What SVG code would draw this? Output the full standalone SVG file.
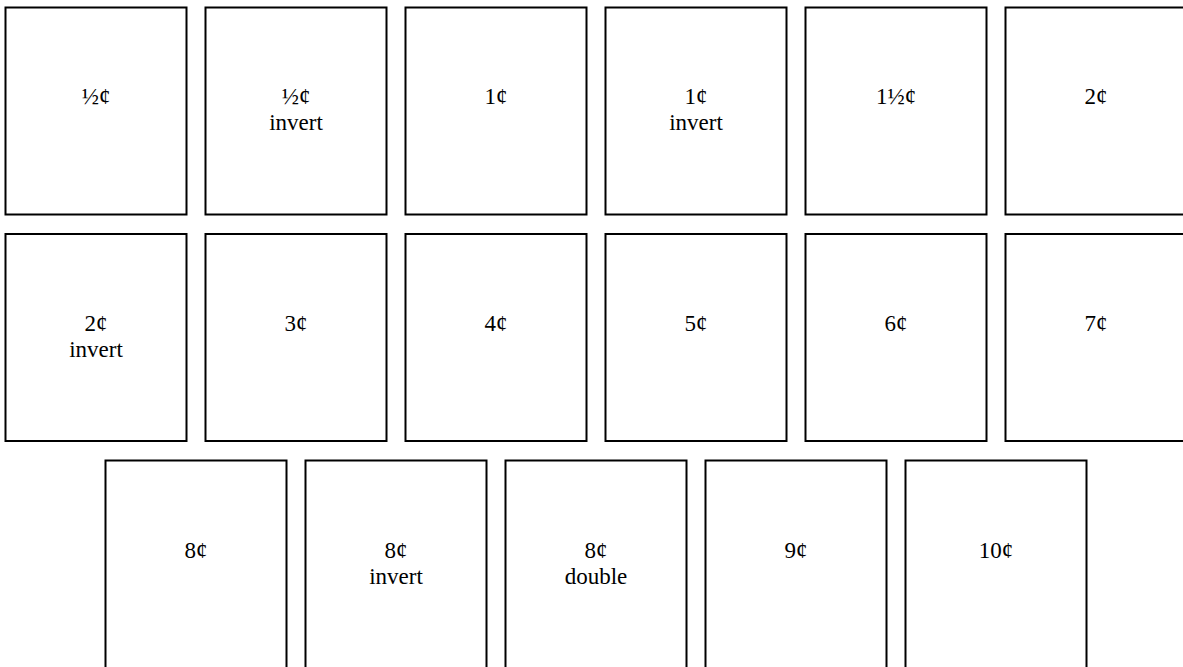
<svg xmlns="http://www.w3.org/2000/svg" width="1183" height="667" viewBox="0 0 1183 667">
<style>
.b{fill:#fff;stroke:#000;stroke-width:2}
.t{font-family:"Liberation Serif","Times New Roman",serif;font-size:23px;fill:#000;text-anchor:middle}
</style>
<rect width="1183" height="667" fill="#fff"/>
<g id="n1"><rect class="b" x="5.5" y="7.5" width="181" height="207"/><text class="t" x="96" y="104">½¢</text></g>
<g id="n2"><rect class="b" x="205.5" y="7.5" width="181" height="207"/><text class="t" x="296" y="104">½¢</text><text class="t" x="296" y="130">invert</text></g>
<g id="n3"><rect class="b" x="405.5" y="7.5" width="181" height="207"/><text class="t" x="496" y="104">1¢</text></g>
<g id="n4"><rect class="b" x="605.5" y="7.5" width="181" height="207"/><text class="t" x="696" y="104">1¢</text><text class="t" x="696" y="130">invert</text></g>
<g id="n5"><rect class="b" x="805.5" y="7.5" width="181" height="207"/><text class="t" x="896" y="104">1½¢</text></g>
<g id="n6"><rect class="b" x="1005.5" y="7.5" width="181" height="207"/><text class="t" x="1096" y="104">2¢</text></g>
<g id="n7"><rect class="b" x="5.5" y="234" width="181" height="207"/><text class="t" x="96" y="331">2¢</text><text class="t" x="96" y="357">invert</text></g>
<g id="n8"><rect class="b" x="205.5" y="234" width="181" height="207"/><text class="t" x="296" y="331">3¢</text></g>
<g id="n9"><rect class="b" x="405.5" y="234" width="181" height="207"/><text class="t" x="496" y="331">4¢</text></g>
<g id="n10"><rect class="b" x="605.5" y="234" width="181" height="207"/><text class="t" x="696" y="331">5¢</text></g>
<g id="n11"><rect class="b" x="805.5" y="234" width="181" height="207"/><text class="t" x="896" y="331">6¢</text></g>
<g id="n12"><rect class="b" x="1005.5" y="234" width="181" height="207"/><text class="t" x="1096" y="331">7¢</text></g>
<g id="n13"><rect class="b" x="105.5" y="460.5" width="181" height="220"/><text class="t" x="196" y="558">8¢</text></g>
<g id="n14"><rect class="b" x="305.5" y="460.5" width="181" height="220"/><text class="t" x="396" y="558">8¢</text><text class="t" x="396" y="584">invert</text></g>
<g id="n15"><rect class="b" x="505.5" y="460.5" width="181" height="220"/><text class="t" x="596" y="558">8¢</text><text class="t" x="596" y="584">double</text></g>
<g id="n16"><rect class="b" x="705.5" y="460.5" width="181" height="220"/><text class="t" x="796" y="558">9¢</text></g>
<g id="n17"><rect class="b" x="905.5" y="460.5" width="181" height="220"/><text class="t" x="996" y="558">10¢</text></g>
<g id="connectors"/>
</svg>
